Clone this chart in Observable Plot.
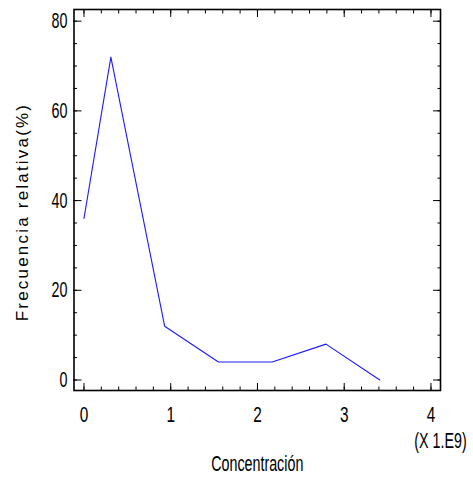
<!DOCTYPE html>
<html><head><meta charset="utf-8">
<script src="https://cdn.jsdelivr.net/npm/d3@7"></script>
<script src="https://cdn.jsdelivr.net/npm/@observablehq/plot@0.6"></script>
<style>body{margin:0;background:#fff}</style>
</head><body><div id="chart"></div>
<script>
const concentracion = [0, 0.31, 0.93, 1.55, 2.17, 2.79, 3.41];
const frecuencia = [36, 72, 12, 4, 4, 8, 0];
const xMajor = [0, 1, 2, 3, 4];
const xMinor = [0, 0.2, 0.4, 0.6, 0.8, 1, 1.2, 1.4, 1.6, 1.8, 2, 2.2, 2.4, 2.6, 2.8, 3, 3.2, 3.4, 3.6, 3.8, 4];
const yMajor = [0, 20, 40, 60, 80];
const yMinor = [0, 5, 10, 15, 20, 25, 30, 35, 40, 45, 50, 55, 60, 65, 70, 75, 80];
const xTitle = "Concentración";
const yTitle = "Frecuencia relativa(%)";
const xScaleNote = "(X 1.E9)";

const data = concentracion.map((c, i) => ({c, f: frecuencia[i]}));
const blank = () => "";

const chart = Plot.plot({
  width: 473, height: 477,
  marginLeft: 73.5, marginRight: 33, marginTop: 9, marginBottom: 87,
  style: {fontFamily: "Liberation Sans, Arial, sans-serif", color: "#000", background: "#fff"},
  x: {domain: [-0.115, 4.11]},
  y: {domain: [-2.34, 82.6]},
  marks: [
    Plot.axisX(xMajor, {anchor: "bottom", tickSize: 0, tickPadding: 16, fontSize: 22, label: null}),
    Plot.axisX(xMajor, {anchor: "bottom", tickSize: -7, tickFormat: blank, label: null}),
    Plot.axisX(xMinor, {anchor: "bottom", tickSize: -3.5, tickFormat: blank, label: null}),
    Plot.axisX(xMajor, {anchor: "top", tickSize: -7, tickFormat: blank, label: null}),
    Plot.axisX(xMinor, {anchor: "top", tickSize: -3.5, tickFormat: blank, label: null}),
    Plot.axisY(yMajor, {anchor: "left", tickSize: 0, tickPadding: 6.5, fontSize: 22, label: null}),
    Plot.axisY(yMajor, {anchor: "left", tickSize: -8, tickFormat: blank, label: null}),
    Plot.axisY(yMinor, {anchor: "left", tickSize: -3.5, tickFormat: blank, label: null}),
    Plot.axisY(yMajor, {anchor: "right", tickSize: -8, tickFormat: blank, label: null}),
    Plot.axisY(yMinor, {anchor: "right", tickSize: -3.5, tickFormat: blank, label: null}),
    Plot.frame({strokeWidth: 1.6}),
    Plot.line(data, {x: "c", y: "f", stroke: "#1a1aff", strokeWidth: 1.1}),
    Plot.text([xScaleNote], {text: d => d, frameAnchor: "bottom-right", textAnchor: "middle", lineAnchor: "middle", dy: 50, fontSize: 22, ariaDescription: "cm"}),
    Plot.text([xTitle], {text: d => d, frameAnchor: "bottom", textAnchor: "middle", lineAnchor: "middle", dy: 73, fontSize: 22, ariaDescription: "cm"}),
    Plot.text([yTitle], {text: d => d, frameAnchor: "left", rotate: -90, textAnchor: "middle", lineAnchor: "middle", dx: -51.5, dy: 12, fontSize: 17, ariaDescription: "ytitle"})
  ]
});
document.getElementById("chart").appendChild(chart);

// horizontally condense text around its anchor, keeping position
function condense(nodes, s, anchor) {
  nodes.forEach(node => {
    if (!node.textContent) return;
    const b = node.getBBox();
    const cx = anchor === "end" ? b.x + b.width : b.x + b.width / 2;
    const tr = node.getAttribute("transform") || "";
    node.setAttribute("transform", `${tr} translate(${cx},0) scale(${s},1) translate(${-cx},0)`);
  });
}
const texts = Array.from(chart.querySelectorAll("text"));
const inside = (sel) => texts.filter(t => t.closest(sel));
condense(inside('[aria-label="x-axis tick label"]'), 0.7, "middle");
condense(inside('[aria-label="y-axis tick label"]'), 0.65, "end");
condense(inside('[aria-description="cm"]'), 0.65, "middle");
inside('[aria-description="ytitle"]').forEach(t => t.style.letterSpacing = "2.2px");
</script>
</body></html>
